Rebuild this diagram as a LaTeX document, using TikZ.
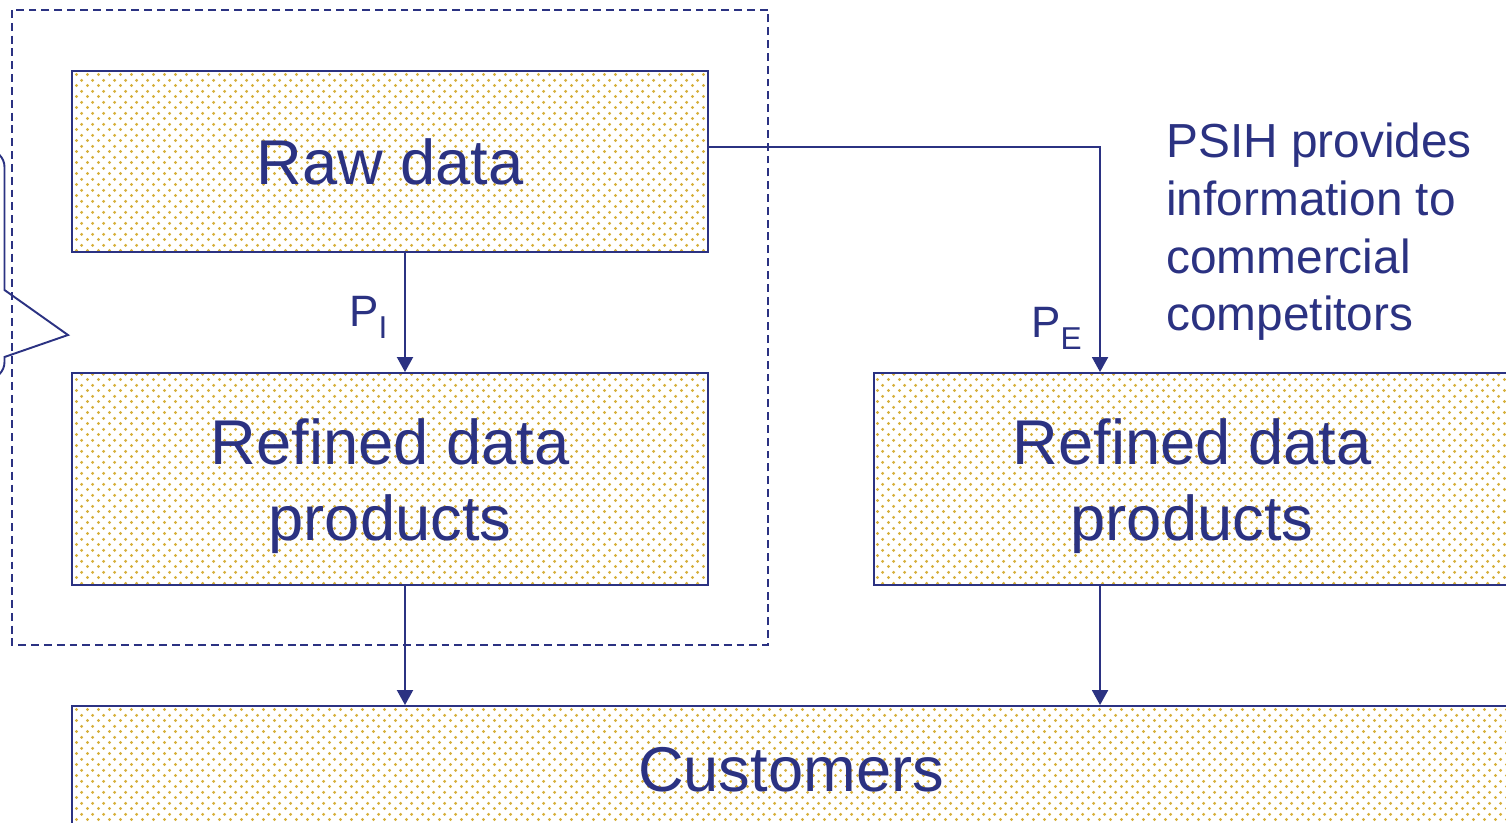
\documentclass[tikz,border=0pt]{standalone}
\usepackage{fontspec}
\setmainfont{Liberation Sans}
\usetikzlibrary{arrows.meta,patterns.meta}
\definecolor{navy}{HTML}{2B3282}
\definecolor{dotgold}{HTML}{D6B03C}
\tikzdeclarepattern{name=golddots, type=uncolored,
  bounding box={(0pt,0pt) and (6pt,6pt)}, tile size={(6pt,6pt)},
  code={\fill (1.5pt,1.5pt) circle (0.95pt); \fill (4.5pt,4.5pt) circle (0.95pt);}}
\begin{document}
\begin{tikzpicture}[x=0.02cm,y=-0.02cm]
	\tikzset{box/.style=
        {draw=navy, line width=1.1pt, pattern=golddots, pattern color=dotgold, align=center,
         inner sep=0pt, text=navy, minimum width=12.72cm, font=\fontsize{36}{43}\selectfont},
        link/.style={navy, line width=1.1pt, -{Triangle[length=0.3cm,width=0.32cm]}},
        lab/.style={inner sep=0pt, text=navy, font=\fontsize{25}{25}\selectfont}
     }
	\useasboundingbox (0,0) rectangle (1506,822);
	\clip (0,0) rectangle (1506,822);
	\draw[navy, line width=1pt, dash pattern=on 4.5pt off 2.8pt] (12,10) rectangle (768,645);
	\node (raw) at (390,161.5) [box, minimum height=3.62cm] {Raw data};
	\node (ref1) at (390,479) [box, minimum height=4.24cm] {\rule{0pt}{34pt}Refined data\\products};
	\node (ref2) at (1192,479) [box, minimum height=4.24cm] {\rule{0pt}{34pt}Refined data\\products};
	\node (cust) at (791,770) [box, minimum width=28.76cm, minimum height=2.56cm] {Customers};
	\node (pi) at (349,326) [lab, anchor=base west] {P\raisebox{-7pt}{\fontsize{18}{18}\selectfont I}};
	\node (pe) at (1031,337) [lab, anchor=base west] {P\raisebox{-7pt}{\fontsize{18}{18}\selectfont E}};
	\node (psih) at (1166,123) [anchor=north west, inner sep=0pt, align=left, text=navy,
	  font=\fontsize{27.2}{32.8}\selectfont] {PSIH provides\\information to\\commercial\\competitors};
	
	\draw[link] ([xshift=0.3cm]raw.south) -- ([xshift=0.3cm]ref1.north);
	\draw[link] ([yshift=0.29cm]raw.east) -| ([xshift=-1.84cm]ref2.north);
	\draw[link] ([xshift=0.3cm]ref1.south) -- ([xshift=0.3cm]ref1.south |- cust.north);
	\draw[link] ([xshift=-1.84cm]ref2.south) -- ([xshift=-1.84cm]ref2.south |- cust.north);
	% callout pointing at the wrapper
	\draw[navy, line width=1.1pt] (-40,150) -- (-12.5,150) arc[start angle=-90, end angle=0, radius=17]
	  -- (4.5,290) -- (68,335) -- (4.5,357) -- (4.5,362) arc[start angle=0, end angle=90, radius=17] -- (-40,379);
\end{tikzpicture}
\end{document}
